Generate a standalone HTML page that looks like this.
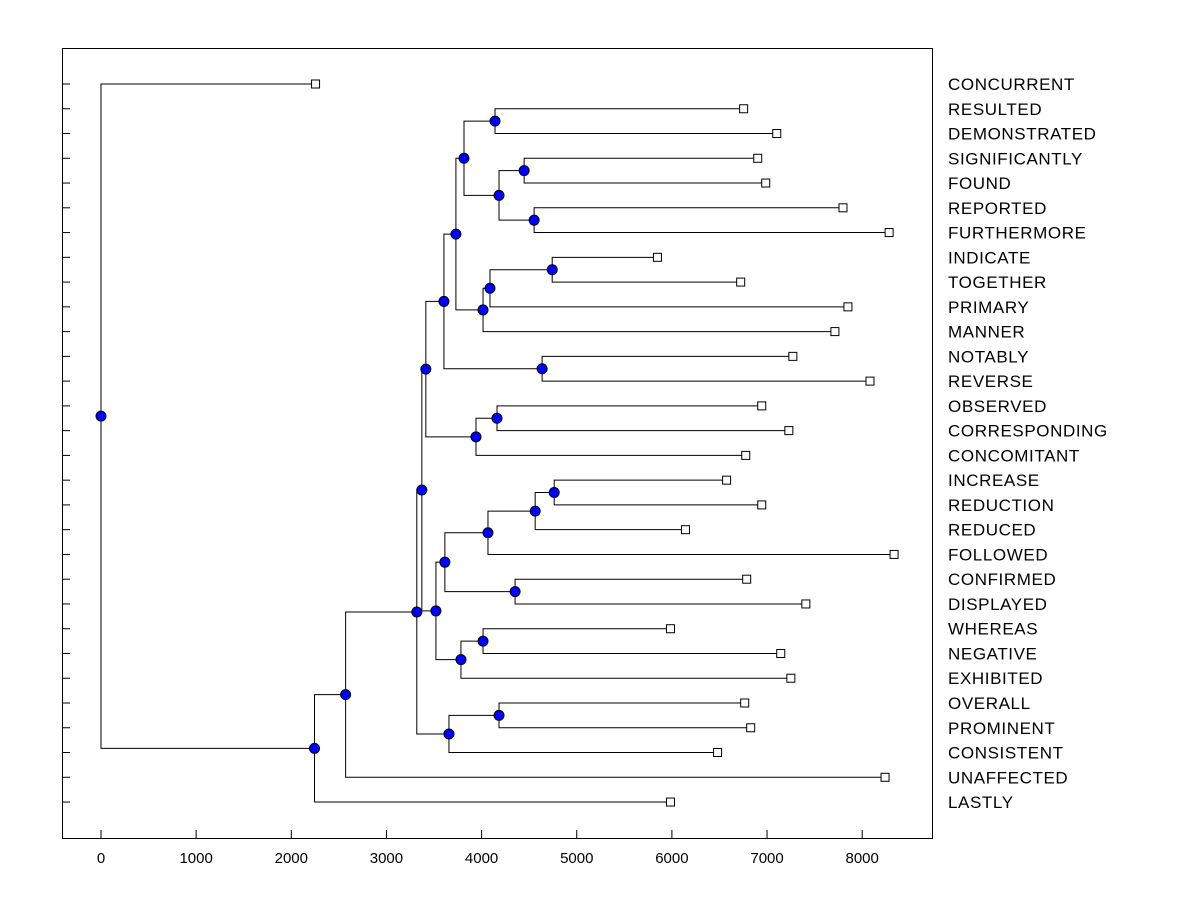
<!DOCTYPE html>
<html><head><meta charset="utf-8"><style>
html,body{margin:0;padding:0;background:#fff;}
svg text{font-family:"Liberation Sans",Arial,sans-serif;}
</style></head><body>
<svg id="chart" width="1200" height="900" xmlns="http://www.w3.org/2000/svg">
<rect x="62.5" y="48.5" width="870" height="790" fill="none" stroke="#000" stroke-width="1"/>
<g id="links"></g><g id="marks"></g><g id="axis"></g>
</svg>
<script>
const leafNames = ["CONCURRENT","RESULTED","DEMONSTRATED","SIGNIFICANTLY","FOUND","REPORTED","FURTHERMORE","INDICATE","TOGETHER","PRIMARY","MANNER","NOTABLY","REVERSE","OBSERVED","CORRESPONDING","CONCOMITANT","INCREASE","REDUCTION","REDUCED","FOLLOWED","CONFIRMED","DISPLAYED","WHEREAS","NEGATIVE","EXHIBITED","OVERALL","PROMINENT","CONSISTENT","UNAFFECTED","LASTLY"];
const leafValues = [2255,6754,7102,6902,6986,7798,8283,5848,6723,7850,7713,7271,8082,6944,7229,6776,6575,6944,6143,8335,6786,7408,5985,7144,7250,6765,6828,6480,8240,5985];
const mergeChildren = [
["L1","L2"],["L3","L4"],["L5","L6"],["N1","N2"],["N0","N3"],
["L7","L8"],["N5","L9"],["N6","L10"],["N4","N7"],["L11","L12"],
["N8","N9"],["L13","L14"],["N11","L15"],["N10","N12"],["L16","L17"],
["N14","L18"],["N15","L19"],["L20","L21"],["N16","N17"],["L22","L23"],
["N19","L24"],["N18","N20"],["N13","N21"],["L25","L26"],["N23","L27"],
["N22","N24"],["N25","L28"],["N26","L29"],["L0","N27"]];
const mergeHeights = [4141,4447,4552,4183,3815,4742,4088,4015,3730,4636,3604,4162,3941,3414,4763,4563,4067,4352,3614,4015,3783,3520,3372,4183,3657,3319,2571,2244,0];
const xTicks = [0,1000,2000,3000,4000,5000,6000,7000,8000];

const X0=101, XS=0.09515, Y0=84, YS=24.76;
const sx = v => X0 + v*XS;
const sy = i => Y0 + i*YS;
const NS="http://www.w3.org/2000/svg";
const links=document.getElementById('links'), marks=document.getElementById('marks'), axis=document.getElementById('axis');
function mk(tag, attrs, parent){const e=document.createElementNS(NS,tag);for(const k in attrs)e.setAttribute(k,attrs[k]);parent.appendChild(e);return e;}
const pos={};
leafNames.forEach((n,i)=>{pos["L"+i]={x:sx(leafValues[i]),y:sy(i)};});
mergeChildren.forEach((c,i)=>{const a=pos[c[0]],b=pos[c[1]];pos["N"+i]={x:sx(mergeHeights[i]),y:(a.y+b.y)/2};});
mergeChildren.forEach((c,i)=>{
  const p=pos["N"+i],a=pos[c[0]],b=pos[c[1]];
  const path=mk('path',{d:`M${a.x},${a.y}H${p.x}V${b.y}H${b.x}`,fill:'none',stroke:'#000','stroke-width':1},links);
  
  
});
leafNames.forEach((n,i)=>{
  const p=pos["L"+i];
  const r=mk('rect',{x:p.x-4,y:p.y-4,width:8,height:8,fill:'#fff',stroke:'#000','stroke-width':1},marks);
  
  
  const t=mk('line',{x1:62,x2:70,y1:p.y,y2:p.y,stroke:'#000'},axis);
  
  
  const tx=mk('text',{x:948,y:p.y+6,'font-size':17,'letter-spacing':0.6,fill:'#000'},axis);
  tx.textContent=n;
  
  
});
mergeHeights.forEach((h,i)=>{
  const p=pos["N"+i];
  const c=mk('circle',{cx:p.x,cy:p.y,r:5,fill:'#0000ff',stroke:'#000','stroke-width':1},marks);
  
  
});
xTicks.forEach(v=>{
  const l=mk('line',{x1:sx(v),x2:sx(v),y1:830,y2:838,stroke:'#000'},axis);
  
  
  const t=mk('text',{x:sx(v),y:863,'font-size':15,'text-anchor':'middle',fill:'#000'},axis);
  t.textContent=v;
  
  
});
</script>
</body></html>
